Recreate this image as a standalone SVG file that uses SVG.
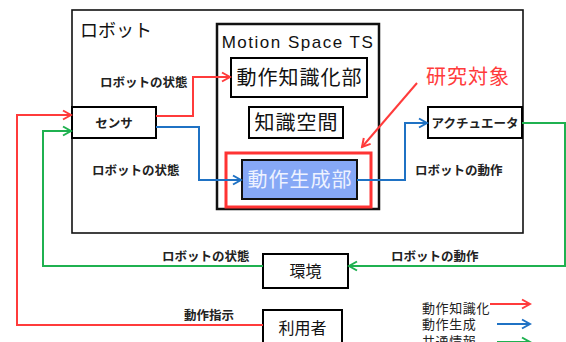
<svg xmlns="http://www.w3.org/2000/svg" width="566" height="342" viewBox="0 0 566 342">
<style>
.box{fill:#fff;stroke:#000;stroke-width:2}
.jp{font-family:"Noto Sans CJK JP","Noto Sans",sans-serif}
.lbl{font-family:"Noto Sans CJK JP",sans-serif;font-size:12.5px;font-weight:bold;fill:#222}
.big{font-family:"Noto Sans CJK JP",sans-serif;font-size:20px;letter-spacing:1px;fill:#111}
.leg{font-family:"Noto Sans CJK JP",sans-serif;font-size:13px;letter-spacing:0.6px;fill:#222}
.r{fill:none;stroke:#ff3b3b;stroke-width:2}
.b{fill:none;stroke:#1f72c4;stroke-width:2}
.g{fill:none;stroke:#1fb150;stroke-width:2}
</style>
<defs>
<marker id="ar" viewBox="-10 -6 12 12" refX="0" refY="0" markerWidth="12" markerHeight="12" markerUnits="userSpaceOnUse" orient="auto"><path d="M-8,-4.5 L0,0 L-8,4.5" fill="none" stroke="#ff3b3b" stroke-width="2"/></marker>
<marker id="ab" viewBox="-10 -6 12 12" refX="0" refY="0" markerWidth="12" markerHeight="12" markerUnits="userSpaceOnUse" orient="auto"><path d="M-8,-4.5 L0,0 L-8,4.5" fill="none" stroke="#1f72c4" stroke-width="2"/></marker>
<marker id="ag" viewBox="-10 -6 12 12" refX="0" refY="0" markerWidth="12" markerHeight="12" markerUnits="userSpaceOnUse" orient="auto"><path d="M-8,-4.5 L0,0 L-8,4.5" fill="none" stroke="#1fb150" stroke-width="2"/></marker>
</defs>
<rect width="566" height="342" fill="#fff"/>
<g id="robot">
<rect x="72" y="10" width="451" height="223" fill="#fff" stroke="#111" stroke-width="1.6"/>
<text x="80" y="37" class="jp" font-size="18" fill="#111">ロボット</text>
</g>
<g id="motion-space">
<rect x="217" y="24" width="162" height="185" fill="#fff" stroke="#111" stroke-width="2.5"/>
<text x="298" y="48" text-anchor="middle" font-family="Liberation Sans,Arial,sans-serif" font-size="17" letter-spacing="1.5" fill="#111">Motion Space TS</text>
</g>
<g id="knowledge-unit">
<rect x="231" y="58" width="136" height="39" class="box"/>
<text x="299.5" y="85" text-anchor="middle" class="big">動作知識化部</text>
</g>
<g id="knowledge-space">
<rect x="249" y="107" width="94" height="31" class="box"/>
<text x="296.5" y="130" text-anchor="middle" class="big">知識空間</text>
</g>
<g id="generation-unit">
<rect x="226" y="153" width="145" height="54" fill="none" stroke="#ff3333" stroke-width="3"/>
<rect x="242" y="160" width="115" height="39" fill="#86a8f6" stroke="#111" stroke-width="2"/>
<text x="300" y="187" text-anchor="middle" class="big" style="fill:#eef2ff">動作生成部</text>
</g>
<g id="research-target">
<text x="426" y="84" class="jp" font-size="20" letter-spacing="1" fill="#ff3b3b">研究対象</text>
</g>
<g id="sensor">
<rect x="72" y="107" width="84" height="31" class="box"/>
<text x="114" y="128" text-anchor="middle" class="lbl" font-size="13">センサ</text>
</g>
<g id="actuator">
<rect x="428" y="107" width="94" height="31" class="box"/>
<text x="475" y="128" text-anchor="middle" class="lbl">アクチュエータ</text>
</g>
<g id="environment">
<rect x="263" y="254" width="85" height="34" class="box"/>
<text x="305.5" y="277" text-anchor="middle" class="jp" font-size="16" fill="#111">環境</text>
</g>
<g id="user">
<rect x="263" y="310" width="79" height="40" class="box"/>
<text x="302.5" y="334" text-anchor="middle" class="jp" font-size="16" fill="#111">利用者</text>
</g>
<g id="connectors">
<path class="r" d="M156,116 H193 V77 H230" marker-end="url(#ar)"/>
<path class="b" d="M156,127 H199 V180 H241" marker-end="url(#ab)"/>
<path class="b" d="M357,180 H405 V123 H427" marker-end="url(#ab)"/>
<path class="g" d="M522,123 H565 V266 H349" marker-end="url(#ag)"/>
<path class="g" d="M263,266 H43 V131 H71" marker-end="url(#ag)"/>
<path class="r" d="M263,325 H17 V115 H71" marker-end="url(#ar)"/>
<path class="r" d="M417,83 L362,147" marker-end="url(#ar)"/>
</g>
<g id="labels">
<text x="100" y="87" class="lbl">ロボットの状態</text>
<text x="92" y="175" class="lbl">ロボットの状態</text>
<text x="415" y="175" class="lbl">ロボットの動作</text>
<text x="162" y="261" class="lbl">ロボットの状態</text>
<text x="391" y="261" class="lbl">ロボットの動作</text>
<text x="184" y="320" class="lbl" font-size="13.5">動作指示</text>
</g>
<g id="legend">
<text x="422" y="313" class="leg">動作知識化</text>
<path class="r" d="M490,304 H530" marker-end="url(#ar)"/>
<text x="422" y="329" class="leg">動作生成</text>
<path class="b" d="M497,324 H530" marker-end="url(#ab)"/>
<text x="422" y="346" class="leg">共通情報</text>
<path class="g" d="M497,342 H530" marker-end="url(#ag)"/>
</g>
</svg>
